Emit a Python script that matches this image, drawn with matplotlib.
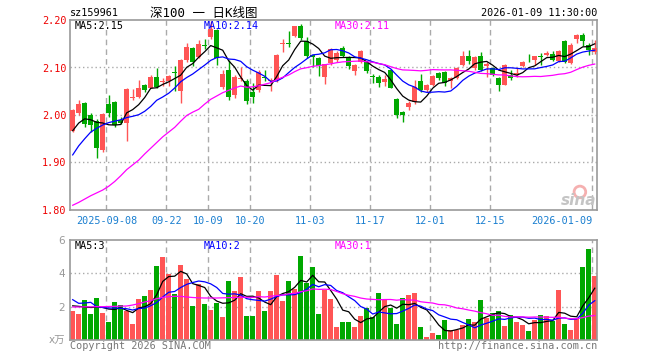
import matplotlib
matplotlib.use("Agg")
import matplotlib.pyplot as plt
import numpy as np
import pandas as pd

plt.rcParams["font.family"] = ["DejaVu Sans Mono", "Noto Sans CJK SC"]

# 日K数据 (2025-08-29 ~ 2026-01-09)
opens = [1.967, 2.004, 2.025, 2.000, 1.988, 1.926, 2.023, 2.027, 1.990, 1.983,
         2.035, 2.038, 2.063, 2.057, 2.081, 2.070, 2.071, 2.090, 2.050, 2.116,
         2.141, 2.123, 2.148, 2.164, 2.178, 2.059, 2.095, 2.043, 2.075, 2.072,
         2.049, 2.052, 2.079, 2.071, 2.074, 2.150, 2.151, 2.166, 2.187, 2.155,
         2.126, 2.121, 2.079, 2.110, 2.116, 2.140, 2.121, 2.092, 2.111, 2.111,
         2.082, 2.081, 2.069, 2.095, 2.033, 2.007, 2.016, 2.028, 2.072, 2.052,
         2.064, 2.088, 2.090, 2.071, 2.078, 2.105, 2.125, 2.099, 2.125, 2.104,
         2.099, 2.077, 2.064, 2.085, 2.085, 2.104, 2.116, 2.116, 2.123, 2.126,
         2.128, 2.114, 2.155, 2.109, 2.159, 2.168, 2.148, 2.133]
highs = [2.012, 2.031, 2.028, 2.005, 1.992, 2.005, 2.042, 2.030, 1.996, 2.056,
         2.055, 2.074, 2.065, 2.085, 2.099, 2.078, 2.084, 2.103, 2.118, 2.152,
         2.143, 2.157, 2.159, 2.198, 2.182, 2.095, 2.116, 2.085, 2.102, 2.075,
         2.067, 2.095, 2.095, 2.077, 2.128, 2.159, 2.176, 2.188, 2.192, 2.164,
         2.127, 2.123, 2.108, 2.141, 2.135, 2.145, 2.124, 2.108, 2.136, 2.113,
         2.086, 2.084, 2.084, 2.097, 2.035, 2.009, 2.030, 2.074, 2.086, 2.065,
         2.085, 2.090, 2.092, 2.080, 2.102, 2.134, 2.137, 2.125, 2.132, 2.112,
         2.102, 2.079, 2.107, 2.095, 2.099, 2.114, 2.128, 2.125, 2.130, 2.134,
         2.134, 2.136, 2.157, 2.152, 2.170, 2.173, 2.152, 2.157]
lows = [1.965, 1.999, 1.975, 1.964, 1.910, 1.922, 1.995, 1.975, 1.981, 1.945,
        2.031, 2.036, 2.049, 2.056, 2.056, 2.061, 2.061, 2.050, 2.026, 2.112,
        2.104, 2.121, 2.138, 2.160, 2.105, 2.054, 2.031, 2.036, 2.071, 2.023,
        2.026, 2.049, 2.071, 2.050, 2.070, 2.132, 2.143, 2.164, 2.157, 2.121,
        2.100, 2.083, 2.066, 2.105, 2.112, 2.122, 2.096, 2.085, 2.110, 2.089,
        2.068, 2.058, 2.062, 2.056, 1.994, 1.985, 2.011, 2.023, 2.049, 2.049,
        2.062, 2.074, 2.061, 2.056, 2.076, 2.103, 2.108, 2.095, 2.093, 2.081,
        2.082, 2.050, 2.063, 2.074, 2.081, 2.102, 2.112, 2.105, 2.105, 2.125,
        2.113, 2.111, 2.110, 2.107, 2.152, 2.145, 2.126, 2.128]
closes = [2.010, 2.023, 1.981, 1.978, 1.931, 2.003, 2.004, 1.978, 1.984, 2.054,
          2.037, 2.056, 2.053, 2.081, 2.060, 2.072, 2.083, 2.088, 2.116, 2.143,
          2.111, 2.150, 2.146, 2.181, 2.119, 2.086, 2.038, 2.079, 2.077, 2.030,
          2.038, 2.090, 2.077, 2.074, 2.126, 2.152, 2.150, 2.187, 2.162, 2.125,
          2.123, 2.103, 2.107, 2.139, 2.131, 2.125, 2.104, 2.106, 2.134, 2.092,
          2.079, 2.067, 2.076, 2.056, 2.000, 2.000, 2.025, 2.059, 2.052, 2.063,
          2.083, 2.077, 2.068, 2.078, 2.099, 2.125, 2.114, 2.123, 2.095, 2.107,
          2.085, 2.063, 2.105, 2.078, 2.088, 2.112, 2.115, 2.124, 2.122, 2.131,
          2.116, 2.134, 2.112, 2.148, 2.168, 2.155, 2.137, 2.141]
volumes = [1.76, 1.58, 2.42, 1.58, 2.55, 1.64, 1.09, 2.30, 2.10, 1.75,
           0.97, 2.48, 2.67, 3.03, 4.42, 4.97, 3.94, 2.79, 4.48, 3.64,
           2.06, 3.39, 2.18, 1.82, 2.24, 1.39, 3.52, 2.97, 3.76, 1.45,
           1.45, 2.97, 1.76, 2.97, 3.88, 2.36, 3.52, 3.09, 5.03, 3.40,
           4.36, 1.58, 3.03, 2.48, 0.80, 1.08, 1.08, 0.80, 1.46, 1.90,
           1.36, 2.83, 2.47, 1.93, 0.96, 2.53, 2.71, 2.83, 0.78, 0.18,
           0.42, 0.30, 1.20, 0.60, 0.60, 0.90, 1.26, 1.08, 2.40, 1.32,
           1.62, 1.74, 0.84, 1.50, 1.08, 0.90, 0.54, 1.20, 1.50, 1.44,
           1.14, 3.00, 0.96, 0.60, 1.26, 4.38, 5.46, 3.84]

# 窗口前历史数据导致的均线起点
ma5_head = [1.967, 1.983, 1.992, 1.990]
ma10_head = [1.916, 1.935, 1.950, 1.964, 1.972, 1.979, 1.984, 1.987, 1.990]
ma30_head = [1.810, 1.816, 1.823, 1.830, 1.836, 1.842, 1.850, 1.860, 1.872, 1.885,
             1.895, 1.905, 1.918, 1.930, 1.942, 1.954, 1.964, 1.974, 1.987, 1.999,
             2.006, 2.012, 2.023, 2.033, 2.040, 2.047, 2.052, 2.057, 2.061]
vma5_head = [2.05, 2.02, 1.98, 1.95]
vma10_head = [2.42, 2.20, 2.22, 2.26, 2.00, 1.95, 1.92, 1.92, 1.90]
vma30_head = [1.98, 1.98, 1.99, 1.99, 2.00, 2.00, 2.01, 2.02, 2.03, 2.04,
              2.10, 2.18, 2.28, 2.36, 2.48, 2.56, 2.60, 2.62, 2.62, 2.58,
              2.55, 2.53, 2.52, 2.52, 2.52, 2.53, 2.54, 2.55, 2.56]

date_idx = [6, 16, 23, 30, 40, 50, 60, 70, 87]
date_labels = ["2025-09-08", "09-22", "10-09", "10-20", "11-03",
               "11-17", "12-01", "12-15", "2026-01-09"]

RED = "#ff5555"
GREEN = "#00a800"
GRID = "#aaaaaa"


def ma(values, n, head):
    s = pd.Series(values, dtype=float).rolling(n).mean()
    s.iloc[:len(head)] = head
    return s.values


o = np.array(opens); h = np.array(highs); l = np.array(lows); c = np.array(closes)
v = np.array(volumes)
x = np.arange(len(c))
up = c >= o
colors = np.where(up, RED, GREEN)

ma5 = ma(closes, 5, ma5_head)
ma10 = ma(closes, 10, ma10_head)
ma30 = ma(closes, 30, ma30_head)
vma5 = ma(volumes, 5, vma5_head)
vma10 = ma(volumes, 10, vma10_head)
vma30 = ma(volumes, 30, vma30_head)

W, H = 660, 360
fig = plt.figure(figsize=(6.6, 3.6), dpi=100)
fig.patch.set_facecolor("white")
ax = fig.add_axes([70 / W, 150 / H, 527.3 / W, 190 / H])
axv = fig.add_axes([70 / W, 20 / H, 527.3 / W, 100 / H])

for a in (ax, axv):
    a.set_xlim(-0.45, 87.43)
    for s in a.spines.values():
        s.set_color("#999999")
        s.set_linewidth(1.2)
    for d in date_idx:
        a.axvline(d - 0.38, color=GRID, lw=1, ls=(0, (4, 3)), zorder=0)
    a.tick_params(length=0)

# K线
body_bottom = np.minimum(o, c)
body_h = np.maximum(np.abs(c - o), 0.0015)
ax.vlines(x, l, h, colors=colors, lw=1, zorder=2)
ax.bar(x, body_h, bottom=body_bottom, width=0.75, color=colors, linewidth=0, zorder=3)
ax.plot(x, ma5, color="black", lw=0.9, zorder=4)
ax.plot(x, ma10, color="#0000ff", lw=0.9, zorder=4)
ax.plot(x, ma30, color="#ff00ff", lw=0.9, zorder=4)
ax.set_ylim(1.80, 2.20)
for yv in (1.90, 2.00, 2.10):
    ax.axhline(yv, color=GRID, lw=1, ls=(0, (1, 2)), zorder=0)
ax.set_yticks([1.80, 1.90, 2.00, 2.10, 2.20])
ax.set_yticklabels(["1.80", "1.90", "2.00", "2.10", "2.20"], color="#ee0000", fontsize=7.3)
ax.tick_params(axis="y", pad=2.5)
ax.set_xticks([d - 0.38 for d in date_idx])
ax.set_xticklabels(date_labels, color="#1a7fd0", fontsize=7.3)
ax.tick_params(axis="x", pad=4)
ax.get_xticklabels()[-1].set_ha("right")

# 新浪水印
ax.scatter([0.967], [0.095], s=70, facecolors="none", edgecolors="#f5b0b0",
           linewidths=2, transform=ax.transAxes, zorder=1)
ax.text(0.999, 0.01, "sina", transform=ax.transAxes, ha="right", va="bottom",
        fontsize=11, style="italic", weight="bold", color="#c4c4c4",
        family="DejaVu Sans", zorder=1)

# 成交量
axv.bar(x, v, width=0.83, color=colors, linewidth=0, zorder=2)
axv.plot(x, vma5, color="black", lw=0.9, zorder=4)
axv.plot(x, vma10, color="#0000ff", lw=0.9, zorder=4)
axv.plot(x, vma30, color="#ff00ff", lw=0.9, zorder=4)
axv.set_ylim(0, 6)
for yv in (2, 4):
    axv.axhline(yv, color=GRID, lw=1, ls=(0, (1, 2)), zorder=0)
axv.set_yticks([0, 2, 4, 6])
axv.set_yticklabels(["x万", "2", "4", "6"], color="#999999", fontsize=7.5,
                    family=["DejaVu Sans", "Noto Sans CJK SC"])
axv.tick_params(axis="y", pad=3.5)
axv.set_xticks([])


def ftext(px, py, s, size=7.3, **kw):
    fig.text(px / W, 1 - py / H, s, va="center", fontsize=size, **kw)


ftext(70, 13, "sz159961", color="black")
ftext(150, 13, "深100 一 日K线图", color="black", size=9)
ftext(597, 13, "2026-01-09 11:30:00", color="black", ha="right")
ftext(75, 26, f"MA5:{ma5[-1]:.2f}", color="black")
ftext(204, 26, f"MA10:{ma10[-1]:.2f}", color="#0000ff")
ftext(335, 26, f"MA30:{ma30[-1]:.2f}", color="#ff00ff")
ftext(75, 246, f"MA5:{int(vma5[-1])}", color="black")
ftext(204, 246, f"MA10:{int(vma10[-1])}", color="#0000ff")
ftext(335, 246, f"MA30:{int(vma30[-1])}", color="#ff00ff")
ftext(70, 346, "Copyright 2026 SINA.COM", color="#777777")
ftext(597, 346, "http://finance.sina.com.cn", color="#777777", ha="right")

fig.savefig("out.png", dpi=100)
